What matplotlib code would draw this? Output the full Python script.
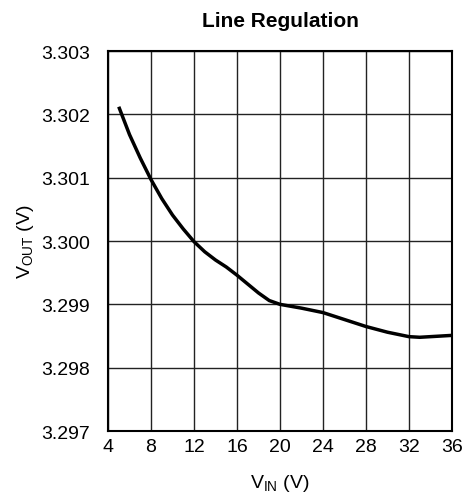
import numpy as np
import matplotlib.pyplot as plt

plt.rcParams['font.family'] = ['Liberation Sans', 'DejaVu Sans']

# data
vin = [5, 6, 7, 8, 9, 10, 11, 12, 13, 14, 15, 16, 17, 18, 19, 20, 21,
       22, 24, 26, 28, 30, 32, 33, 34, 35, 36]
vout = [3.30212, 3.30168, 3.30131, 3.30097, 3.30067, 3.30041, 3.30019, 3.29999,
        3.29983, 3.29970, 3.29959, 3.29946, 3.29932, 3.29918, 3.29906, 3.29900,
        3.29897, 3.29894, 3.29887, 3.29876, 3.29865, 3.29856, 3.29849, 3.29848,
        3.29849, 3.29850, 3.29851]

x_ticks = [4, 8, 12, 16, 20, 24, 28, 32, 36]
y_ticks = [3.297, 3.298, 3.299, 3.300, 3.301, 3.302, 3.303]


def plot(output_name):
    fig = plt.figure(figsize=(4.65, 5.02), dpi=100)
    ax = fig.add_axes([0.2323, 0.1394, 0.7397, 0.757])

    ax.plot(vin, vout, color='black', linewidth=2.5, solid_capstyle='butt', zorder=3)

    ax.set_xlim(4, 36)
    ax.set_ylim(3.297, 3.303)
    ax.set_xticks(x_ticks)
    ax.set_yticks(y_ticks)
    ax.set_yticklabels(["{0:.3f}".format(v) for v in y_ticks])
    ax.grid(True, color='#222222', linewidth=1.0)
    ax.tick_params(axis='both', length=0, labelsize=14)
    ax.tick_params(axis='x', pad=5)
    ax.tick_params(axis='y', pad=13)
    for sp in ax.spines.values():
        sp.set_linewidth(1.5)

    ax.set_title("Line Regulation", fontsize=15, fontweight='bold', pad=18)
    ax.set_xlabel("V$_{\\mathregular{IN}}$ (V)", fontsize=14, labelpad=12)
    ax.set_ylabel("V$_{\\mathregular{OUT}}$ (V)", fontsize=14, labelpad=4)

    plt.savefig(output_name)
    plt.close('all')


def main():
    plot("out.png")


if __name__ == "__main__":
    main()
